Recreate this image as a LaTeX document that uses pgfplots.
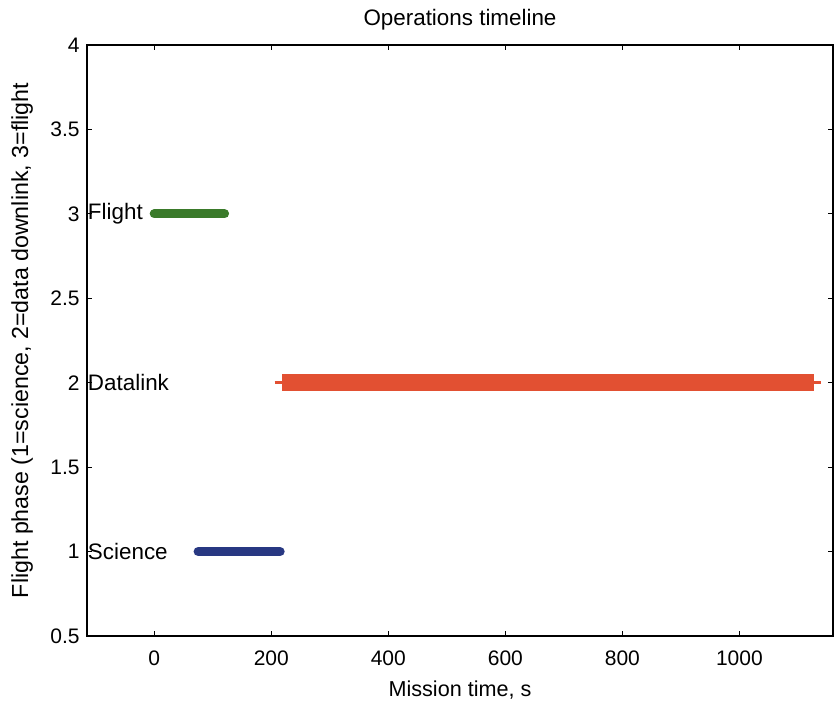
\documentclass[border=0pt]{standalone}
\usepackage{fontspec}
\setmainfont{Liberation Sans}
\usepackage{pgfplots}
\pgfplotsset{compat=1.18}
\definecolor{flightgreen}{RGB}{58,122,42}
\definecolor{sciblue}{RGB}{40,56,130}
\definecolor{linkred}{RGB}{226,80,50}
\begin{document}
\fontsize{10.5}{12.6}\selectfont
\begin{tikzpicture}
\begin{axis}[
  scale only axis,
  width=373pt, height=295.5pt,
  xmin=-115, xmax=1160,
  ymin=0.5, ymax=4,
  xtick={0,200,400,600,800,1000},
  xticklabels={0,200,400,600,800,1000},
  ytick={0.5,1,1.5,2,2.5,3,3.5,4},
  yticklabels={0.5,1,1.5,2,2.5,3,3.5,4},
  tick align=inside,
  major tick length=2.5pt,
  tick style={black, line width=0.6pt},
  axis line style={black, line width=0.6pt},
  /pgf/number format/assume math mode=true,
  tick label style={font=\fontsize{10.5}{12.6}\selectfont},
  xticklabel style={yshift=-3.5pt},
  scaled x ticks=false,
  title={Operations timeline},
  title style={at={(axis description cs:0.5,1.0423)}, anchor=center, yshift=-6pt, font=\fontsize{11.2}{13.4}\selectfont},
  xlabel={Mission time, s},
  xlabel style={at={(axis description cs:0.5,-0.0914)}, anchor=center, font=\fontsize{10.8}{13}\selectfont},
  ylabel={Flight phase (1=science, 2=data downlink, 3=flight},
  ylabel style={at={(axis description cs:-0.0871,0.5)}, anchor=center, rotate=0, font=\fontsize{11.6}{14}\selectfont},
  clip=false,
]
\addplot[linkred, mark=+, mark size=4.2pt, line width=1.5pt, mark options={line width=1.5pt}] coordinates {
(220,2)(225,2)(230,2)(235,2)(240,2)(245,2)(250,2)(255,2)(260,2)(265,2)
(270,2)(275,2)(280,2)(285,2)(290,2)(295,2)(300,2)(305,2)(310,2)(315,2)
(320,2)(325,2)(330,2)(335,2)(340,2)(345,2)(350,2)(355,2)(360,2)(365,2)
(370,2)(375,2)(380,2)(385,2)(390,2)(395,2)(400,2)(405,2)(410,2)(415,2)
(420,2)(425,2)(430,2)(435,2)(440,2)(445,2)(450,2)(455,2)(460,2)(465,2)
(470,2)(475,2)(480,2)(485,2)(490,2)(495,2)(500,2)(505,2)(510,2)(515,2)
(520,2)(525,2)(530,2)(535,2)(540,2)(545,2)(550,2)(555,2)(560,2)(565,2)
(570,2)(575,2)(580,2)(585,2)(590,2)(595,2)(600,2)(605,2)(610,2)(615,2)
(620,2)(625,2)(630,2)(635,2)(640,2)(645,2)(650,2)(655,2)(660,2)(665,2)
(670,2)(675,2)(680,2)(685,2)(690,2)(695,2)(700,2)(705,2)(710,2)(715,2)
(720,2)(725,2)(730,2)(735,2)(740,2)(745,2)(750,2)(755,2)(760,2)(765,2)
(770,2)(775,2)(780,2)(785,2)(790,2)(795,2)(800,2)(805,2)(810,2)(815,2)
(820,2)(825,2)(830,2)(835,2)(840,2)(845,2)(850,2)(855,2)(860,2)(865,2)
(870,2)(875,2)(880,2)(885,2)(890,2)(895,2)(900,2)(905,2)(910,2)(915,2)
(920,2)(925,2)(930,2)(935,2)(940,2)(945,2)(950,2)(955,2)(960,2)(965,2)
(970,2)(975,2)(980,2)(985,2)(990,2)(995,2)(1000,2)(1005,2)(1010,2)(1015,2)
(1020,2)(1025,2)(1030,2)(1035,2)(1040,2)(1045,2)(1050,2)(1055,2)(1060,2)(1065,2)
(1070,2)(1075,2)(1080,2)(1085,2)(1090,2)(1095,2)(1100,2)(1105,2)(1110,2)(1115,2)
(1120,2)(1125,2)
};
\addplot[flightgreen, line width=4.6pt, line cap=round, mark=none] coordinates {
(0,3)(10,3)(20,3)(30,3)(40,3)(50,3)(60,3)(70,3)(80,3)(90,3)(100,3)(110,3)(120,3)
};
\addplot[sciblue, line width=4.6pt, line cap=round, mark=none] coordinates {
(75,1)(85,1)(95,1)(105,1)(115,1)(125,1)(135,1)(145,1)(155,1)(165,1)(175,1)(185,1)(195,1)(205,1)(215,1)
};
\node[anchor=west, inner sep=0.3pt, font=\fontsize{11.2}{13.4}\selectfont] at (axis cs:-115,3) {Flight};
\node[anchor=west, inner sep=0.3pt, font=\fontsize{11.2}{13.4}\selectfont] at (axis cs:-115,2) {Datalink};
\node[anchor=west, inner sep=0.3pt, font=\fontsize{11.2}{13.4}\selectfont] at (axis cs:-115,1) {Science};
\end{axis}
\pgfresetboundingbox
\path (current axis.south west) ++(-43.5pt,-34.5pt) coordinate (bbA);
\path (current axis.north east) ++(1.5pt,22.5pt) coordinate (bbB);
\useasboundingbox (bbA) rectangle (bbB);
\end{tikzpicture}
\end{document}
